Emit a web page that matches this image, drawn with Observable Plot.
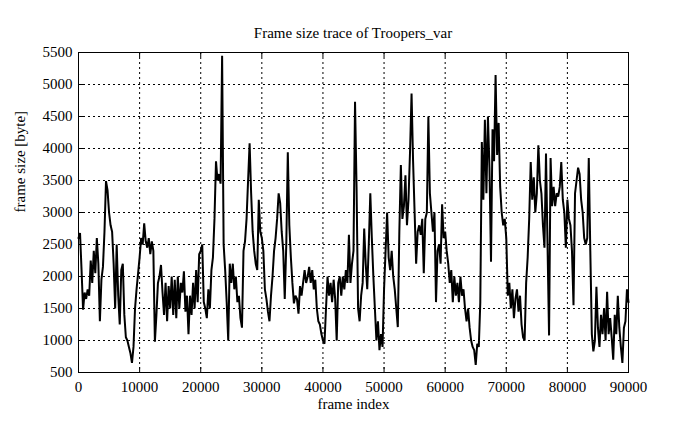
<!DOCTYPE html>
<html>
<head>
<meta charset="utf-8">
<script src="https://cdn.jsdelivr.net/npm/d3@7"></script>
<script src="https://cdn.jsdelivr.net/npm/@observablehq/plot@0.6"></script>
<style>
  html, body { margin: 0; padding: 0; background: #fff; }
  #wrap { width: 695px; height: 426px; position: relative; }
  #title { height: 40px; box-sizing: border-box; padding: 25px 67px 0 78px; text-align: center;
           font-family: "Liberation Serif", "DejaVu Serif", serif; font-size: 15px; line-height: 16px; color: #000; }
</style>
</head>
<body>
<div id="wrap">
  <div id="title"></div>
  <div id="chart"></div>
</div>
<script>
const titleText = "Frame size trace of Troopers_var";
const xLabel = "frame index";
const yLabel = "frame size [byte]";
const xTicks = [0, 10000, 20000, 30000, 40000, 50000, 60000, 70000, 80000, 90000];
const yTicks = [500, 1000, 1500, 2000, 2500, 3000, 3500, 4000, 4500, 5000, 5500];
const frameStep = 250; // sampling step of frame index

// frame sizes [byte], one every frameStep frames, starting at frame 0
const frameSize = [
  2600, 2680, 2100, 1480, 1750, 1650, 1800, 1700, 2250, 1900, 2400, 2050, 2600, 2200, 1300, 1950, 2150, 2700, 3490, 3350,
  3000, 2800, 2700, 2200, 1500, 2500, 1700, 1250, 2100, 2200, 1400, 1050, 1000, 900, 800, 650, 900, 1500, 1800, 2050,
  2300, 2600, 2500, 2830, 2550, 2450, 2600, 2350, 2550, 2400, 980, 1400, 1900, 2000, 2180, 1750, 1400, 1900, 1300, 1850,
  1500, 2000, 1400, 1950, 1350, 2000, 1500, 1900, 1750, 2080, 1450, 1700, 1100, 1700, 1400, 1900, 1500, 2100, 1600, 2350,
  2400, 2500, 1600, 1500, 1350, 1800, 1500, 2100, 2300, 2900, 3800, 3500, 3600, 3450, 5450, 2500, 2100, 1600, 1000, 2200,
  1900, 2200, 1800, 2000, 1600, 1700, 1350, 1200, 2400, 2550, 2900, 3500, 4080, 3300, 2700, 2400, 2200, 2100, 3200, 2700,
  2600, 2400, 1800, 1650, 1450, 1300, 1700, 2000, 2400, 2600, 2900, 3300, 3150, 2700, 2400, 1650, 2500, 3940, 2800, 2300,
  1900, 1580, 1700, 1650, 1420, 1850, 1700, 1900, 2100, 1900, 2000, 2150, 1900, 2100, 1800, 1950, 1500, 1300, 1250, 1100,
  1000, 950, 1500, 2000, 1700, 1900, 1600, 1950, 1650, 1000, 1900, 2000, 1700, 2000, 1800, 2100, 1900, 2650, 1900, 2200,
  2400, 4730, 3400, 1500, 1300, 1700, 1900, 2750, 2200, 1800, 2500, 3300, 2600, 2000, 1500, 1000, 1300, 850, 1100, 900,
  1800, 2400, 3000, 2300, 2100, 2400, 2000, 1800, 1500, 1210, 2700, 3740, 2900, 3100, 3580, 2800, 3200, 3950, 4860, 3800,
  3000, 2200, 2700, 2800, 2650, 2900, 2050, 2900, 3000, 4500, 3300, 3000, 2700, 3000, 1600, 2400, 2500, 2200, 3130, 2600,
  2700, 2400, 2200, 1900, 2100, 1600, 2000, 1700, 1900, 1600, 2000, 1700, 1800, 1500, 1300, 1500, 1200, 1000, 900, 850,
  620, 950, 900, 1600, 4100, 3200, 4450, 3300, 4500, 3700, 2230, 4300, 3800, 5150, 3900, 4400, 3400, 3000, 2800, 2900,
  2600, 1700, 1900, 1500, 1800, 1350, 1650, 1800, 1450, 1700, 1250, 1050, 1000, 1900, 2300, 2900, 3790, 3200, 3550, 3000,
  3300, 4050, 3500, 3300, 2800, 2450, 3920, 2500, 1080, 3850, 3100, 3400, 3100, 3300, 3250, 3400, 3790, 3200, 3000, 2450,
  3200, 2900, 2800, 2400, 1550, 3300, 3500, 3700, 3600, 3200, 3000, 2600, 2500, 2600, 3850, 2400, 1100, 830, 1000, 1840,
  1200, 900, 1400, 1100, 1500, 1000, 1760, 1100, 1350, 1050, 700, 1400, 1100, 1700, 1200, 900, 650, 1200, 1300, 1800,
  1600
];

document.getElementById("title").textContent = titleText;

const data = frameSize.map((v, i) => ({frame: i * frameStep, size: v}));

const W = 695, H = 386, mL = 78, mR = 67, mT = 12, mB = 54;
const innerW = W - mL - mR, innerH = H - mT - mB;
const tickLen = 5;

const chart = Plot.plot({
  width: W,
  height: H,
  marginLeft: mL,
  marginRight: mR,
  marginTop: mT,
  marginBottom: mB,
  style: {fontFamily: "'Liberation Serif', 'DejaVu Serif', serif", fontSize: "15px", color: "#000", background: "#fff"},
  x: {domain: [0, 90000]},
  y: {domain: [500, 5500]},
  marks: [
    Plot.gridX(xTicks.slice(1, -1), {stroke: "#000", strokeOpacity: 1, strokeWidth: 1, strokeDasharray: "2,3"}),
    Plot.gridY(yTicks.slice(1, -1), {stroke: "#000", strokeOpacity: 1, strokeWidth: 1, strokeDasharray: "2,3"}),
    Plot.tickX(xTicks, {x: d => d, stroke: "#000", insetTop: innerH - tickLen}),
    Plot.tickX(xTicks, {x: d => d, stroke: "#000", insetBottom: innerH - tickLen}),
    Plot.tickY(yTicks, {y: d => d, stroke: "#000", insetRight: innerW - tickLen}),
    Plot.tickY(yTicks, {y: d => d, stroke: "#000", insetLeft: innerW - tickLen}),
    Plot.line(data, {x: "frame", y: "size", stroke: "#000", strokeWidth: 2, strokeLinejoin: "miter"}),
    Plot.frame({stroke: "#000"}),
    Plot.axisX(xTicks, {tickSize: 0, tickPadding: 9, tickFormat: d => String(d), label: null}),
    Plot.axisY(yTicks, {tickSize: 0, tickPadding: 6, tickFormat: d => String(d), label: null}),
    Plot.text([xLabel], {frameAnchor: "bottom", dy: 36, fill: "#000"}),
    Plot.text([yLabel], {frameAnchor: "left", dx: -58, rotate: -90, fill: "#000"})
  ]
});
document.getElementById("chart").appendChild(chart);
</script>
</body>
</html>
